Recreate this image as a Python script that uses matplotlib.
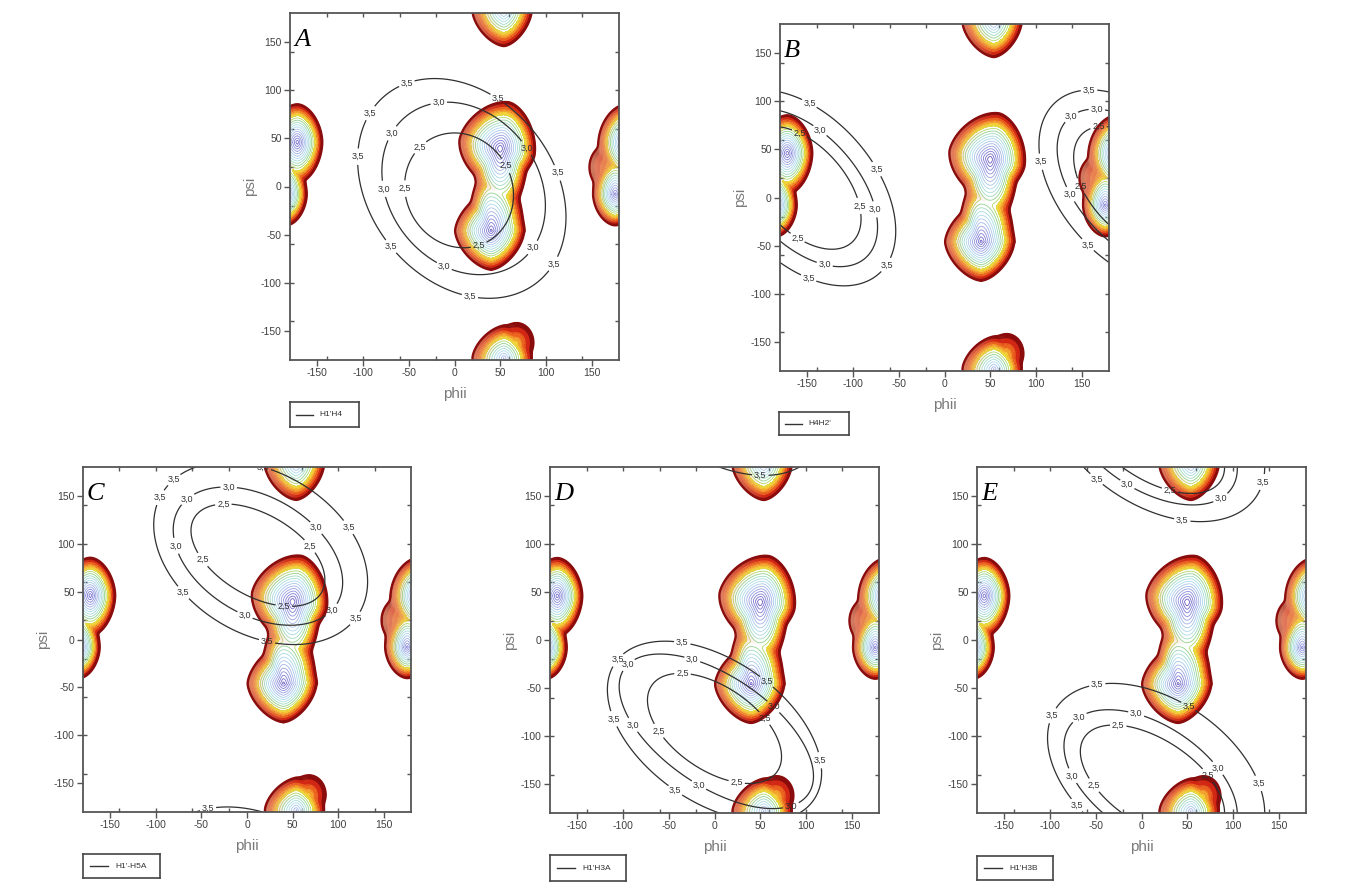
import numpy as np
import matplotlib
matplotlib.use("Agg")
import matplotlib.pyplot as plt
from matplotlib.colors import LinearSegmentedColormap, to_rgb

plt.rcParams['font.family'] = ['Liberation Sans', 'DejaVu Sans']
plt.rcParams['axes.unicode_minus'] = False

# ---------------- energy map (same in every panel) ----------------
# basin centre, reach to the left / right / down / up at the outer contour, tilt, shape exponent, floor energy
well_phi   = [50, 50, 40, 40, -172, 176, 172, 54, 68]
well_psi   = [40, 40, -46, -46, 46, -8, 20, -178, -162]
well_left  = [45, 30, 39, 24, 30, 24, 24, 34, 18]
well_right = [38, 30, 36, 35, 27, 22, 10, 30, 18]
well_down  = [40, 70, 40, 5, 42, 32, 25, 36, 18]
well_up    = [48, 5, 40, 66, 39, 40, 25, 33, 20]
well_tilt  = [-12, 0, 0, 0, 0, 0, 0, 0, 0]
well_shape = [1.7, 2.0, 1.6, 2.0, 1.8, 1.8, 2.0, 1.6, 2.0]
well_e0    = [0.0, 0.0, 0.4, 0.4, 0.6, 1.2, 7.0, 2.5, 7.0]
energy_top = 9.0
n_energy_levels = 18

# ---------------- panels ----------------
panel_letters = ["A", "B", "C", "D", "E"]
legend_labels = ["H1'H4", "H4H2'", "H1'-H5A", "H1'H3A", "H1'H3B"]
dist_levels = [2.5, 3.0, 3.5]
dist_text = ["2,5", "3,0", "3,5"]

# distance iso-lines: one ellipse per level (centre phi/psi, semi-axes, tilt)
A_cphi = [5, 10, 8];        A_cpsi = [-4, -2, -2];      A_a = [62, 98, 128];  A_b = [57, 80, 98];  A_tilt = [-45, -45, -45]
B_cphi = [-155, -155, -155]; B_cpsi = [10, 10, 10];     B_a = [78, 100, 122]; B_b = [45, 58, 76];  B_tilt = [-45, -45, -45]
C_cphi = [12, 12, 15];      C_cpsi = [88, 87, 90];      C_a = [80, 100, 125]; C_b = [43, 62, 85];  C_tilt = [-28, -28, -28]
D_cphi = [0, 2, 0];         D_cpsi = [-92, -95, -95];   D_a = [82, 120, 130]; D_b = [44, 58, 75];  D_tilt = [-32, -32, -32]
E_cphi = [12, 10, 16];      E_cpsi = [-148, -146, -141]; E_a = [88, 105, 130]; E_b = [45, 58, 80]; E_tilt = [-31, -31, -31]

# where the iso-line labels sit (phi, psi), per level 2.5 / 3.0 / 3.5
A_lab = [[(-37, 40), (-50, -2), (27, -62), (47, 17)],
         [(-17, 85), (-68, 55), (-75, -2), (-8, -76), (79, -59), (68, 33)],
         [(-53, 109), (-92, 76), (-108, 31), (-68, -61), (16, -118), (101, -76), (112, 14), (45, 88)]]
B_lab = [[(-155, 74), (-104, -11), (-159, -39), (169, 69), (156, 15)],
         [(-132, 75), (-88, -15), (-132, -73), (167, 98), (141, 81), (139, 4)],
         [(-146, 101), (-84, 24), (-59, -73), (-148, -82), (158, 116), (116, 39), (159, -47)]]
C_lab = [[(-26, 142), (-42, 88), (40, 31), (66, 95)],
         [(-20, 162), (-70, 152), (-70, 100), (-2, 26), (95, 29), (71, 112)],
         [(-84, 171), (-97, 149), (-57, 60), (22, -2), (119, 22), (99, 109), (15, 171), (-44, -171)]]
D_lab = [[(-35, -35), (-68, -99), (25, -144), (54, -82)],
         [(-23, -16), (-87, -33), (-92, -90), (-14, -146), (80, -161), (61, -73)],
         [(-103, -23), (-105, -80), (-39, -151), (116, -125), (58, -42), (-34, 5), (50, 167)]]
E_lab = [[(-26, -97), (-49, -149), (71, -142), (31, 156)],
         [(-71, -76), (-7, -81), (84, -133), (-71, -139), (-18, 158), (84, 152)],
         [(-49, -43), (-99, -78), (-66, -168), (123, -151), (44, -81), (-46, 171), (44, 121), (126, 166)]]

panels = [
    (A_cphi, A_cpsi, A_a, A_b, A_tilt, A_lab),
    (B_cphi, B_cpsi, B_a, B_b, B_tilt, B_lab),
    (C_cphi, C_cpsi, C_a, C_b, C_tilt, C_lab),
    (D_cphi, D_cpsi, D_a, D_b, D_tilt, D_lab),
    (E_cphi, E_cpsi, E_a, E_b, E_tilt, E_lab),
]

W, H = 1346, 890
# axes boxes in pixels: left, top, right, bottom
ax_px = [(290, 13, 619, 360), (780, 24, 1109, 371), (83, 467, 411, 812),
         (550, 467, 879, 813), (977, 467, 1306, 813)]
leg_px = [(290, 402, 359, 427), (779, 412, 849, 435), (83, 854, 160, 878),
          (550, 855, 626, 881), (977, 856, 1053, 880)]


def wrap(d):
    return (d + 180.0) % 360.0 - 180.0


grid = np.linspace(-180, 180, 721)
P, S = np.meshgrid(grid, grid)

# energy field: smooth union of periodic (egg / diamond shaped) cones
terms = []
for pc, sc, rl, rr, rd, ru, tl, pw, e0 in zip(well_phi, well_psi, well_left, well_right,
                                              well_down, well_up, well_tilt, well_shape, well_e0):
    th = np.deg2rad(tl)
    dx = wrap(P - pc)
    dy = wrap(S - sc)
    u = dx * np.cos(th) + dy * np.sin(th)
    v = -dx * np.sin(th) + dy * np.cos(th)
    rx = np.where(u < 0, rl, rr)
    ry = np.where(v < 0, rd, ru)
    rho = (np.abs(u / rx) ** pw + np.abs(v / ry) ** pw) ** (1.0 / pw)
    terms.append(e0 + (energy_top - e0) * rho)
terms = np.array(terms)
Tsm = 0.3
mn = terms.min(axis=0)
Efield = mn - Tsm * np.log(np.exp(-(terms - mn) / Tsm).sum(axis=0))

levels = np.linspace(energy_top / n_energy_levels, energy_top, n_energy_levels)
cmap = LinearSegmentedColormap.from_list("map", [
    (0.00, "#6a5cc0"), (0.15, "#8484d8"), (0.30, "#a4b6e8"), (0.42, "#aedaee"),
    (0.52, "#a2dcc8"), (0.60, "#90d084"), (0.68, "#c8e056"), (0.75, "#f2de3c"),
    (0.82, "#f5a630"), (0.88, "#ec6620"), (0.94, "#d22814"), (1.00, "#8a0c0c")])
line_cols = [cmap(i / (n_energy_levels - 1)) for i in range(n_energy_levels)]
lws = [0.6] * (n_energy_levels - 3) + [0.9, 1.3, 2.1]
n_fill = 5
fill_levels = levels[-(n_fill + 1):]
fill_cols = [cmap((n_energy_levels - n_fill + i) / (n_energy_levels - 1)) for i in range(n_fill)]

# soft salmon shading on the west-facing rims (the 3-D look of the original)
gE_psi, gE_phi = np.gradient(Efield)
gnorm = np.hypot(gE_phi, gE_psi) + 1e-9
facing = np.clip(-gE_phi / gnorm, 0, 1)
band = np.clip((Efield - 5.0) / 3.6, 0, 1) * (Efield <= energy_top)
shade = np.zeros(Efield.shape + (4,))
shade[..., :3] = to_rgb("#e8a07e")
shade[..., 3] = 0.75 * facing ** 1.5 * band


def ellipse_norm(cphi, cpsi, a, b, tilt):
    t = np.deg2rad(tilt)
    dx = wrap(P - cphi)
    dy = wrap(S - cpsi)
    u = dx * np.cos(t) + dy * np.sin(t)
    v = -dx * np.sin(t) + dy * np.cos(t)
    return np.hypot(u / a, v / b)


fig = plt.figure(figsize=(W / 100, H / 100), dpi=100)

for k, (cph, cps, aa, bb, tt, labs) in enumerate(panels):
    l, t, r, b = ax_px[k]
    ax = fig.add_axes([l / W, 1 - b / H, (r - l) / W, (b - t) / H])
    ax.contourf(P, S, Efield, levels=fill_levels, colors=fill_cols)
    ax.contour(P, S, Efield, levels=levels, colors=line_cols, linewidths=lws)
    ax.imshow(shade, extent=[-180, 180, -180, 180], origin="lower",
              interpolation="bilinear", aspect="auto", zorder=3)
    ax.contour(P, S, Efield, levels=[energy_top], colors=[line_cols[-1]],
               linewidths=1.2, zorder=3.5)

    for i, lev in enumerate(dist_levels):
        F = ellipse_norm(cph[i], cps[i], aa[i], bb[i], tt[i])
        cs = ax.contour(P, S, F, levels=[1.0], colors="#303030", linewidths=0.9, zorder=4)
        txts = ax.clabel(cs, [1.0], manual=labs[i], inline=True, inline_spacing=2,
                         fmt={1.0: dist_text[i]}, fontsize=6.5, colors="#303030")
        for tx in txts:
            tx.set_rotation(0)
            tx.set_zorder(5)

    ax.set_xlim(-180, 180)
    ax.set_ylim(-180, 180)
    ax.set_xticks(np.arange(-150, 151, 50))
    ax.set_yticks(np.arange(-150, 151, 50))
    ax.set_xticks(np.arange(-140, 141, 40), minor=True)
    ax.set_yticks(np.arange(-140, 141, 40), minor=True)
    ax.xaxis.remove_overlapping_locs = False
    ax.yaxis.remove_overlapping_locs = False
    ax.tick_params(which="major", direction="out", length=4, width=1, color="#555555",
                   labelcolor="#404040", labelsize=7.5, pad=2)
    ax.tick_params(which="minor", direction="in", length=3, width=1, color="#555555",
                   top=True, right=True)
    for sp in ax.spines.values():
        sp.set_color("#555555")
        sp.set_linewidth(1.3)
        sp.set_zorder(6)
    ax.set_xlabel("phii", fontsize=11, color="#7a7a7a", labelpad=6)
    ax.set_ylabel("psi", fontsize=11, color="#7a7a7a", labelpad=3)
    ax.text(0.012, 0.905, panel_letters[k], transform=ax.transAxes, fontsize=19,
            fontstyle="italic", family=["Liberation Serif", "DejaVu Serif"], va="baseline",
            zorder=6)

    # legend box
    l2, t2, r2, b2 = leg_px[k]
    lax = fig.add_axes([l2 / W, 1 - b2 / H, (r2 - l2) / W, (b2 - t2) / H])
    lax.set_xlim(0, 1)
    lax.set_ylim(0, 1)
    lax.set_xticks([])
    lax.set_yticks([])
    for sp in lax.spines.values():
        sp.set_color("#444444")
        sp.set_linewidth(1.2)
    lax.plot([0.09, 0.33], [0.5, 0.5], color="#333333", lw=1)
    lax.text(0.42, 0.5, legend_labels[k], fontsize=6, va="center", ha="left", color="#333333")

fig.savefig("out.png", dpi=100)
